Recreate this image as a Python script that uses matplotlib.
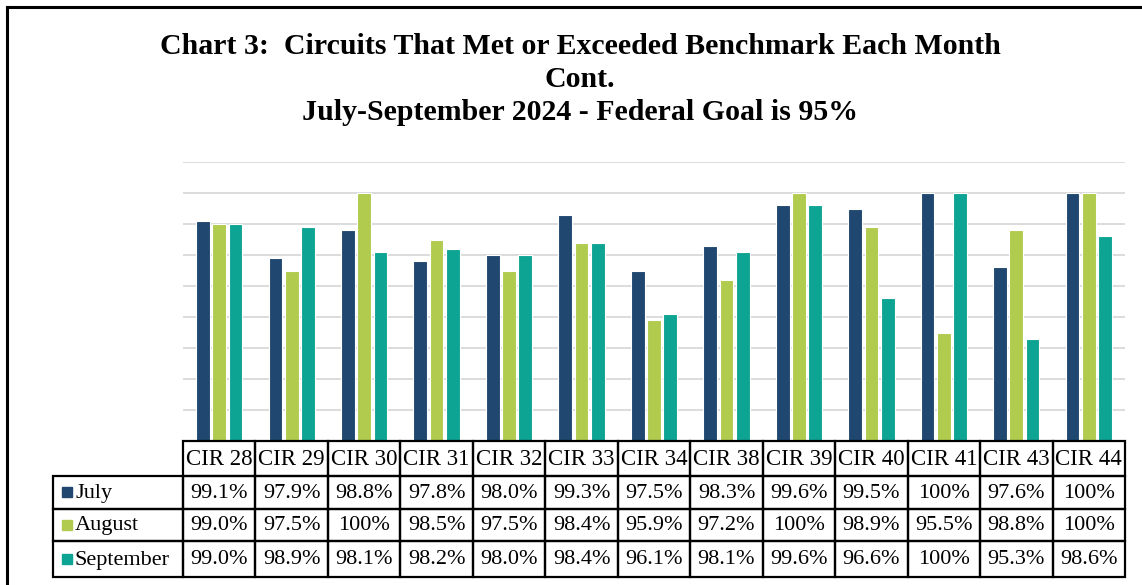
import matplotlib.pyplot as plt
from matplotlib.patches import Rectangle

# data
circuits = ['CIR 28', 'CIR 29', 'CIR 30', 'CIR 31', 'CIR 32', 'CIR 33', 'CIR 34',
            'CIR 38', 'CIR 39', 'CIR 40', 'CIR 41', 'CIR 43', 'CIR 44']
months = ['July', 'August', 'September']
july = [99.1, 97.9, 98.8, 97.8, 98.0, 99.3, 97.5, 98.3, 99.6, 99.5, 100, 97.6, 100]
august = [99.0, 97.5, 100, 98.5, 97.5, 98.4, 95.9, 97.2, 100, 98.9, 95.5, 98.8, 100]
september = [99.0, 98.9, 98.1, 98.2, 98.0, 98.4, 96.1, 98.1, 99.6, 96.6, 100, 95.3, 98.6]
colors = ['#1f4770', '#b0cb4e', '#0ea493']

series = [july, august, september]

def fmt(v):
    return '100%' if v == 100 else f'{v:.1f}%'

plt.rcParams['font.family'] = ['Liberation Serif', 'DejaVu Serif']

W, H = 1142, 585
fig = plt.figure(figsize=(W / 100, H / 100), dpi=100)

# plot area (pixel layout of the original)
left, right, bottom, top = 183, 1125, 441, 162
ax = fig.add_axes([left / W, 1 - bottom / H, (right - left) / W, (bottom - top) / H])
n = len(circuits)
x = list(range(n))
bw = 0.19
for k, vals in enumerate(series):
    ax.bar([i + (k - 1) * 0.225 for i in x], vals, width=bw, color=colors[k],
           edgecolor='white', linewidth=0.8, zorder=3)
ax.set_xlim(-0.5, n - 0.5)
ax.set_ylim(92, 101)
ax.set_yticks(range(92, 102))
ax.set_xticks([])
ax.tick_params(length=0, labelleft=False)
ax.grid(axis='y', color='#d9d9d9', linewidth=1.3, zorder=0)
for s in ax.spines.values():
    s.set_visible(False)

# overlay in pixel coordinates for the table, title and frame
ov = fig.add_axes([0, 0, 1, 1], zorder=5)
ov.set_xlim(0, W)
ov.set_ylim(H, 0)
ov.axis('off')
ov.patch.set_alpha(0)

ov.plot([7, 7], [H, 7], color='black', lw=2.2)
ov.plot([7, W], [7, 7], color='black', lw=2.2)

title_lines = ['Chart 3:  Circuits That Met or Exceeded Benchmark Each Month',
               'Cont.',
               'July-September 2024 - Federal Goal is 95%']
for j, t in enumerate(title_lines):
    ov.text(580, 46 + j * 33.5, t, ha='center', va='center', fontsize=21.5,
            fontweight='bold')

cw = (right - left) / n
row_edges = [441, 476, 508.5, 541, 577]
label_left = 53
lw = 1.6

# header row
for i, c in enumerate(circuits):
    x0 = left + i * cw
    ov.add_patch(Rectangle((x0, row_edges[0]), cw, row_edges[1] - row_edges[0],
                           fill=False, ec='black', lw=lw))
    ov.text(x0 + cw / 2, (row_edges[0] + row_edges[1]) / 2 + 1, c, ha='center',
            va='center', fontsize=16.5)

# data rows
for r, (m, vals) in enumerate(zip(months, series)):
    y0, y1 = row_edges[r + 1], row_edges[r + 2]
    yc = (y0 + y1) / 2 + 1
    ov.add_patch(Rectangle((label_left, y0), left - label_left, y1 - y0,
                           fill=False, ec='black', lw=lw))
    ov.add_patch(Rectangle((62, yc - 6), 10, 10, color=colors[r]))
    ov.text(75, yc, m, ha='left', va='center', fontsize=16)
    for i, v in enumerate(vals):
        x0 = left + i * cw
        ov.add_patch(Rectangle((x0, y0), cw, y1 - y0, fill=False, ec='black', lw=lw))
        ov.text(x0 + cw / 2, yc, fmt(v), ha='center', va='center', fontsize=16)

fig.savefig('out.png', dpi=100)
